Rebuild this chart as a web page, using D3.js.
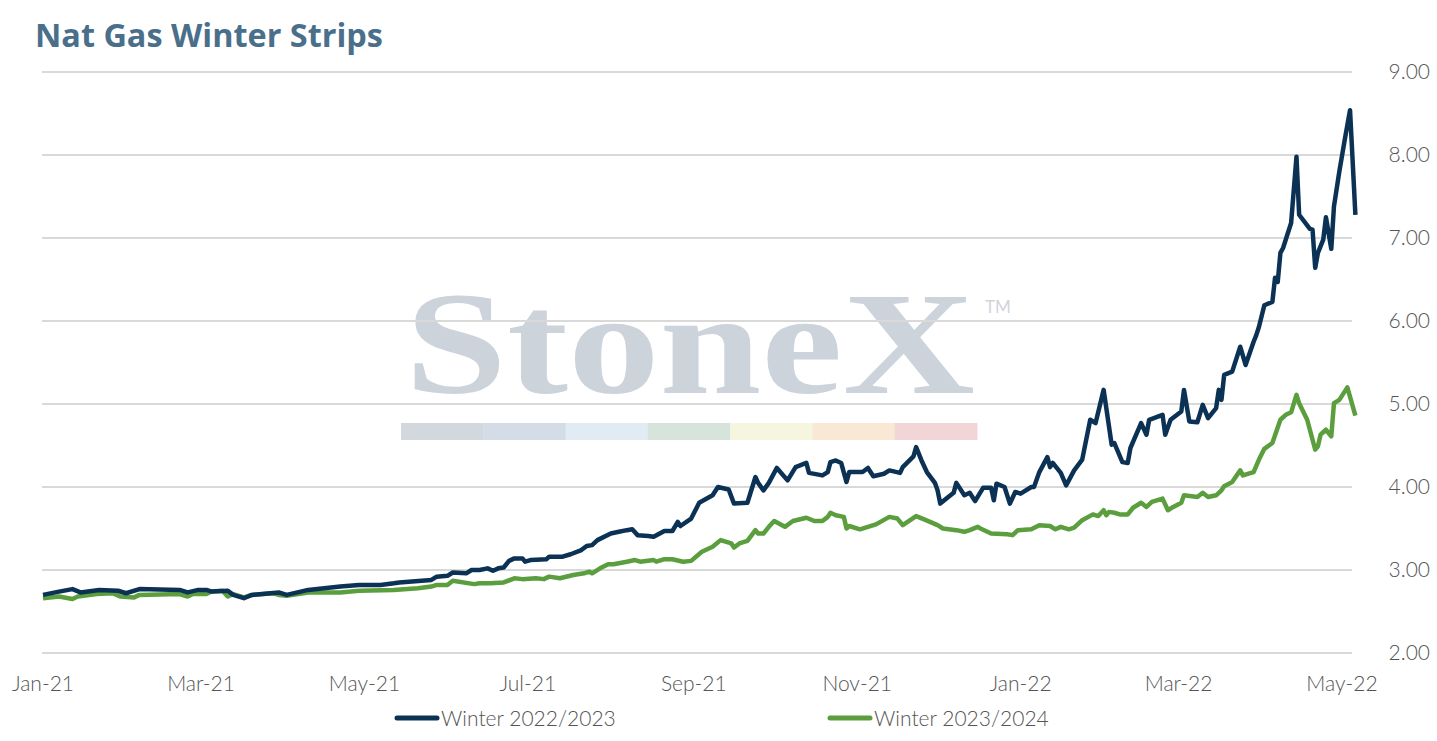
<!DOCTYPE html>
<html>
<head>
<meta charset="utf-8">
<script src="https://cdn.jsdelivr.net/npm/d3@7"></script>
<style>
  html, body { margin: 0; padding: 0; background: #fff; }
  svg { display: block; }
  text { font-family: Lato, "Open Sans", sans-serif; }
</style>
</head>
<body>
<svg id="chart"></svg>
<script>
// Winter 2022/2023 strip
const dates22 = ["2021-01-01","2021-01-07","2021-01-12","2021-01-15","2021-01-22","2021-01-29","2021-02-01","2021-02-06","2021-02-21","2021-02-24","2021-02-28","2021-03-03","2021-03-05","2021-03-11","2021-03-13","2021-03-17","2021-03-20","2021-03-30","2021-04-02","2021-04-10","2021-04-22","2021-04-29","2021-05-07","2021-05-12","2021-05-14","2021-05-26","2021-05-28","2021-06-01","2021-06-03","2021-06-08","2021-06-10","2021-06-13","2021-06-16","2021-06-18","2021-06-20","2021-06-22","2021-06-24","2021-06-26","2021-06-29","2021-06-30","2021-07-02","2021-07-08","2021-07-09","2021-07-14","2021-07-17","2021-07-21","2021-07-23","2021-07-25","2021-07-27","2021-08-01","2021-08-04","2021-08-07","2021-08-09","2021-08-11","2021-08-15","2021-08-17","2021-08-21","2021-08-24","2021-08-26","2021-08-27","2021-08-31","2021-09-03","2021-09-08","2021-09-10","2021-09-14","2021-09-16","2021-09-21","2021-09-24","2021-09-25","2021-09-27","2021-09-29","2021-10-02","2021-10-06","2021-10-09","2021-10-13","2021-10-14","2021-10-19","2021-10-21","2021-10-22","2021-10-24","2021-10-26","2021-10-28","2021-10-29","2021-11-03","2021-11-05","2021-11-07","2021-11-11","2021-11-13","2021-11-17","2021-11-18","2021-11-22","2021-11-23","2021-11-25","2021-11-27","2021-11-30","2021-12-01","2021-12-02","2021-12-05","2021-12-07","2021-12-08","2021-12-11","2021-12-13","2021-12-15","2021-12-18","2021-12-21","2021-12-22","2021-12-23","2021-12-26","2021-12-28","2021-12-30","2022-01-01","2022-01-05","2022-01-06","2022-01-08","2022-01-11","2022-01-12","2022-01-13","2022-01-16","2022-01-18","2022-01-21","2022-01-24","2022-01-27","2022-01-29","2022-02-01","2022-02-04","2022-02-05","2022-02-08","2022-02-10","2022-02-11","2022-02-15","2022-02-17","2022-02-18","2022-02-23","2022-02-24","2022-02-26","2022-03-02","2022-03-03","2022-03-05","2022-03-08","2022-03-10","2022-03-12","2022-03-15","2022-03-16","2022-03-17","2022-03-18","2022-03-21","2022-03-24","2022-03-26","2022-03-29","2022-03-30","2022-03-31","2022-04-02","2022-04-05","2022-04-06","2022-04-07","2022-04-08","2022-04-09","2022-04-12","2022-04-14","2022-04-15","2022-04-19","2022-04-20","2022-04-21","2022-04-22","2022-04-24","2022-04-25","2022-04-27","2022-04-28","2022-04-30","2022-05-02","2022-05-04","2022-05-06"];
const values22 = [2.70,2.74,2.77,2.73,2.76,2.75,2.72,2.77,2.76,2.73,2.76,2.76,2.74,2.75,2.70,2.66,2.70,2.73,2.70,2.76,2.80,2.82,2.82,2.84,2.85,2.88,2.92,2.93,2.97,2.96,3.00,3.00,3.02,2.99,3.02,3.03,3.11,3.14,3.14,3.10,3.12,3.13,3.16,3.16,3.19,3.24,3.29,3.30,3.36,3.44,3.46,3.48,3.49,3.42,3.41,3.40,3.47,3.47,3.58,3.53,3.62,3.81,3.90,4.00,3.97,3.80,3.81,4.12,4.05,3.96,4.05,4.23,4.08,4.24,4.29,4.17,4.14,4.18,4.30,4.32,4.29,4.06,4.18,4.18,4.23,4.13,4.16,4.20,4.17,4.24,4.37,4.48,4.32,4.18,4.05,3.96,3.80,3.88,3.93,4.05,3.90,3.93,3.83,3.99,3.99,3.84,4.04,4.00,3.80,3.94,3.92,4.00,4.00,4.18,4.36,4.24,4.29,4.17,4.02,4.20,4.33,4.81,4.77,5.17,4.51,4.53,4.30,4.29,4.47,4.77,4.63,4.81,4.87,4.63,4.81,4.91,5.17,4.79,4.78,4.99,4.83,4.95,5.17,5.05,5.35,5.39,5.69,5.47,5.75,5.83,5.93,6.19,6.23,6.52,6.47,6.82,6.88,7.18,7.98,7.28,7.11,7.10,6.64,6.82,6.98,7.25,6.87,7.38,7.80,8.18,8.54,7.28];

// Winter 2023/2024 strip
const dates23 = ["2021-01-01","2021-01-07","2021-01-12","2021-01-14","2021-01-21","2021-01-27","2021-01-30","2021-02-04","2021-02-06","2021-02-21","2021-02-24","2021-02-26","2021-03-03","2021-03-05","2021-03-09","2021-03-11","2021-03-13","2021-03-17","2021-03-20","2021-03-28","2021-03-30","2021-04-02","2021-04-10","2021-04-22","2021-04-29","2021-05-12","2021-05-21","2021-05-26","2021-05-28","2021-06-01","2021-06-03","2021-06-11","2021-06-13","2021-06-17","2021-06-22","2021-06-26","2021-06-29","2021-07-04","2021-07-07","2021-07-09","2021-07-13","2021-07-18","2021-07-22","2021-07-24","2021-07-25","2021-07-28","2021-07-31","2021-08-02","2021-08-07","2021-08-10","2021-08-12","2021-08-17","2021-08-18","2021-08-21","2021-08-24","2021-08-28","2021-08-31","2021-09-04","2021-09-08","2021-09-11","2021-09-15","2021-09-16","2021-09-18","2021-09-21","2021-09-24","2021-09-25","2021-09-27","2021-09-29","2021-10-01","2021-10-05","2021-10-08","2021-10-13","2021-10-16","2021-10-19","2021-10-21","2021-10-22","2021-10-24","2021-10-27","2021-10-28","2021-10-29","2021-11-02","2021-11-05","2021-11-08","2021-11-13","2021-11-16","2021-11-18","2021-11-23","2021-11-26","2021-12-01","2021-12-03","2021-12-08","2021-12-11","2021-12-13","2021-12-16","2021-12-17","2021-12-21","2021-12-27","2021-12-29","2021-12-31","2022-01-05","2022-01-08","2022-01-12","2022-01-14","2022-01-16","2022-01-19","2022-01-21","2022-01-24","2022-01-28","2022-01-30","2022-02-01","2022-02-02","2022-02-03","2022-02-05","2022-02-07","2022-02-10","2022-02-12","2022-02-15","2022-02-17","2022-02-19","2022-02-23","2022-02-25","2022-02-27","2022-03-02","2022-03-03","2022-03-08","2022-03-10","2022-03-12","2022-03-15","2022-03-17","2022-03-18","2022-03-21","2022-03-24","2022-03-25","2022-03-29","2022-03-31","2022-04-02","2022-04-05","2022-04-08","2022-04-10","2022-04-12","2022-04-14","2022-04-15","2022-04-18","2022-04-21","2022-04-22","2022-04-23","2022-04-25","2022-04-27","2022-04-28","2022-04-30","2022-05-03","2022-05-06"];
const values23 = [2.66,2.68,2.65,2.68,2.71,2.72,2.68,2.67,2.70,2.71,2.68,2.71,2.71,2.74,2.75,2.68,2.71,2.67,2.70,2.72,2.70,2.69,2.73,2.73,2.75,2.76,2.78,2.80,2.82,2.82,2.87,2.83,2.84,2.84,2.85,2.90,2.89,2.90,2.89,2.92,2.90,2.94,2.96,2.98,2.96,3.02,3.07,3.07,3.10,3.12,3.10,3.12,3.10,3.13,3.13,3.10,3.11,3.22,3.28,3.36,3.32,3.27,3.32,3.35,3.48,3.44,3.44,3.52,3.59,3.52,3.59,3.63,3.59,3.59,3.64,3.69,3.66,3.64,3.50,3.53,3.49,3.52,3.55,3.64,3.62,3.54,3.65,3.61,3.54,3.50,3.48,3.46,3.48,3.52,3.50,3.44,3.43,3.42,3.48,3.49,3.54,3.53,3.49,3.52,3.49,3.51,3.60,3.67,3.65,3.72,3.66,3.70,3.69,3.67,3.67,3.75,3.81,3.76,3.82,3.86,3.72,3.76,3.81,3.90,3.88,3.93,3.88,3.90,3.96,4.01,4.06,4.20,4.14,4.18,4.33,4.46,4.53,4.81,4.87,4.90,5.11,5.01,4.81,4.45,4.49,4.63,4.69,4.61,5.01,5.05,5.20,4.86];

const seriesNames = ["Winter 2022/2023", "Winter 2023/2024"];
const seriesColors = ["#0b3255", "#5b9e3e"];
const xTicks = ["2021-01-01","2021-03-01","2021-05-01","2021-07-01","2021-09-01","2021-11-01","2022-01-01","2022-03-01","2022-05-01"];
const yTicks = [2, 3, 4, 5, 6, 7, 8, 9];
const bandColors = ["#d3d8df", "#d3dce7", "#e0ebf4", "#d6e4dc", "#f6f5df", "#f9e8d3", "#f1d5d7"];

const width = 1437, height = 741;
const parse = d3.timeParse("%Y-%m-%d");

const svg = d3.select("#chart").attr("width", width).attr("height", height);

const x = d3.scaleTime()
  .domain([parse("2021-01-01"), parse("2022-05-01")])
  .range([43, 1342]);
const y = d3.scaleLinear().domain([2, 9]).range([653, 72]);

// title
const title = svg.append("text")
  .attr("x", 35).attr("y", 47)
  .style("font-family", "'Open Sans', sans-serif")
  .style("font-weight", 700)
  .style("font-size", "28px")
  .attr("fill", "#4a6f8b")
  .text("Nat Gas Winter Strips");
const tw = title.node().getComputedTextLength();
title.style("font-size", (28 * 348 / tw).toFixed(2) + "px");

// watermark
const wm = svg.append("g").attr("id", "watermark");
wm.append("text")
  .attr("x", 405).attr("y", 393)
  .attr("textLength", 570)
  .attr("lengthAdjust", "spacingAndGlyphs")
  .style("font-family", "'Liberation Serif', 'DejaVu Serif', serif")
  .style("font-weight", 700)
  .style("font-size", "146px")
  .attr("fill", "#cdd3db")
  .text("StoneX");
wm.append("text")
  .attr("x", 985).attr("y", 313)
  .style("font-size", "17px")
  .attr("fill", "#cfd5dc")
  .text("TM");
const bandX = d3.scaleBand().domain(d3.range(bandColors.length)).range([401, 977]);
wm.selectAll("rect")
  .data(bandColors)
  .enter()
  .append("rect")
  .attr("x", (d, i) => bandX(i))
  .attr("y", 423)
  .attr("width", bandX.bandwidth() + 0.5)
  .attr("height", 17)
  .attr("fill", (d) => d);

// gridlines + right axis labels
svg.append("g")
  .selectAll("line")
  .data(yTicks)
  .enter()
  .append("line")
  .attr("x1", 42).attr("x2", 1352)
  .attr("y1", (d) => y(d)).attr("y2", (d) => y(d))
  .attr("stroke", "#d9d9d9")
  .attr("stroke-width", 2);

svg.append("g")
  .selectAll("text")
  .data(yTicks)
  .enter()
  .append("text")
  .attr("x", 1430)
  .attr("y", (d) => y(d) + 7)
  .attr("text-anchor", "end")
  .style("font-size", "21px")
  .style("font-weight", 300)
  .attr("fill", "#555")
  .text((d) => d.toFixed(2));

// x axis labels
const fmt = d3.timeFormat("%b-%y");
svg.append("g")
  .selectAll("text")
  .data(xTicks.map(parse))
  .enter()
  .append("text")
  .attr("x", (d) => x(d))
  .attr("y", 691)
  .attr("text-anchor", "middle")
  .style("font-size", "21px")
  .style("font-weight", 300)
  .attr("fill", "#555")
  .text((d) => fmt(d));

// lines
const line = d3.line()
  .x((d) => x(d.date))
  .y((d) => y(d.value));

const series = [
  dates22.map((d, i) => ({ date: parse(d), value: values22[i] })),
  dates23.map((d, i) => ({ date: parse(d), value: values23[i] })),
];

// green drawn first, navy on top
[1, 0].forEach((k) => {
  svg.append("path")
    .datum(series[k])
    .attr("fill", "none")
    .attr("stroke", seriesColors[k])
    .attr("stroke-width", 4.5)
    .attr("stroke-linejoin", "round")
    .attr("d", line);
});

// legend
const legendX = [395, 828];
const legend = svg.append("g")
  .selectAll("g")
  .data(seriesNames)
  .enter()
  .append("g")
  .attr("transform", (d, i) => `translate(${legendX[i]},718)`);
legend.append("line")
  .attr("x1", 2).attr("x2", 42)
  .attr("stroke", (d, i) => seriesColors[i])
  .attr("stroke-width", 5)
  .attr("stroke-linecap", "round");
legend.append("text")
  .attr("x", 46).attr("y", 8)
  .style("font-size", "21px")
  .style("font-weight", 300)
  .attr("fill", "#555")
  .text((d) => d);
</script>
</body>
</html>
